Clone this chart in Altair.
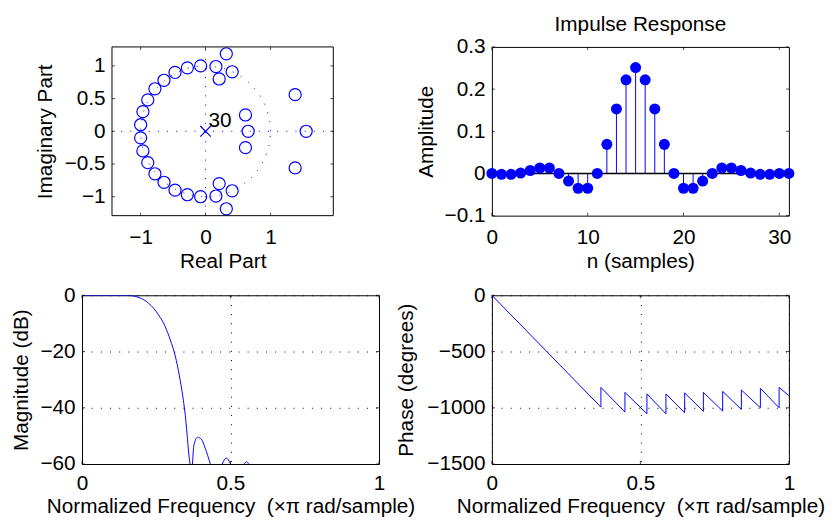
import altair as alt
import pandas as pd
import numpy as np

FONT = "Liberation Sans"
FS = 21
BLUE = "#0000ff"

# ---------------- pole-zero plot ----------------
zero_re = [-0.076, -0.28, -0.47, -0.64, -0.78, -0.89, -0.965, -1.0,
           -0.076, -0.28, -0.47, -0.64, -0.78, -0.89, -0.965, -1.0,
           0.16, 0.41, 0.21, 0.32, 0.16, 0.41, 0.21, 0.32,
           0.615, 0.615, 0.656, 1.38, 1.38, 1.55]
zero_im = [1.00, 0.97, 0.90, 0.78, 0.65, 0.48, 0.30, 0.10,
           -1.00, -0.97, -0.90, -0.78, -0.65, -0.48, -0.30, -0.10,
           0.99, 0.91, 0.80, 1.185, -0.99, -0.91, -0.80, -1.185,
           0.25, -0.25, 0.0, 0.56, -0.56, 0.0]
pole_re = [0.0]
pole_im = [0.0]
pole_mult = ["30"]
zp_xlim = [-1.441, 1.968]      # axes box limits
zp_ylim = [-1.29, 1.29]
zp_xdomain = [-1.903, 2.672]   # panel range (same width as other panels)
zp_xticks = [-1, 0, 1]
zp_yticks = [-1, -0.5, 0, 0.5, 1]

# ---------------- impulse response ----------------
ir_title = ["Impulse Response"]
ir_n = list(range(32))
ir_h = [0.0, -0.002, -0.002, 0.001, 0.007, 0.013, 0.013, 0.0, -0.018, -0.035,
        -0.035, 0.0, 0.069, 0.153, 0.222, 0.251, 0.222, 0.153, 0.069, 0.0,
        -0.035, -0.035, -0.018, 0.0, 0.013, 0.013, 0.007, 0.001, -0.002, -0.002,
        0.0, 0.0]
ir_xlim = [0, 31]
ir_ylim = [-0.1, 0.3]
ir_xticks = [0, 10, 20, 30]
ir_yticks = [-0.1, 0, 0.1, 0.2, 0.3]

# ---------------- magnitude response ----------------
mag_f = [0.0, 0.147, 0.192, 0.225, 0.258, 0.280, 0.297, 0.314, 0.328, 0.339, 0.349, 0.355, 0.361, 0.364,
         0.372, 0.377, 0.389, 0.402, 0.415, 0.432,
         0.472, 0.486, 0.500,
         0.546, 0.554, 0.561]
mag_db = [0.0, 0.0, -0.8, -2.9, -7.0, -11.1, -15.8, -21.6, -28.7, -35.7, -43.9, -50.9, -57.9, -60.0,
          -60.0, -53.2, -50.5, -51.2, -54.4, -60.0,
          -60.0, -57.9, -60.0,
          -60.0, -59.2, -60.0]
mag_seg = [0] * 14 + [1] * 6 + [2] * 3 + [3] * 3
mag_ylim = [-60, 0]
mag_yticks = [-60, -40, -20, 0]

# ---------------- phase response ----------------
ph_f = [0.0, 0.367, 0.367, 0.448, 0.448, 0.522, 0.522, 0.586, 0.586, 0.649, 0.649,
        0.712, 0.712, 0.777, 0.777, 0.840, 0.840, 0.904, 0.904, 0.967, 0.967, 1.0]
ph_deg = [0, -994, -819, -1038, -863, -1053, -877, -1053, -877, -1044, -868,
          -1032, -863, -1029, -854, -1015, -842, -1000, -827, -1000, -819, -892]
ph_ylim = [-1500, 0]
ph_yticks = [-1500, -1000, -500, 0]

f_xlim = [0, 1]
f_xticks = [0, 0.5, 1]
FREQ_TITLE = "Normalized Frequency\u00a0 (\u00d7\u03c0 rad/sample)"

W, H = 301, 171
DOT = [1, 8.3]
FMT = "~f"
TOP_X = dict(labelPadding=11, titlePadding=3.4)
BOT_X = dict(labelPadding=9, titlePadding=2)


def inner_ticks(xt, yt, xlim, ylim):
    L = 3
    dx = pd.DataFrame({"v": xt})
    dy = pd.DataFrame({"v": yt})
    base = dict(color="black", thickness=1, size=L)
    bot = alt.Chart(dx).mark_tick(orient="vertical", yOffset=-L / 2, **base).encode(
        x="v:Q", y=alt.datum(ylim[0]))
    top = alt.Chart(dx).mark_tick(orient="vertical", yOffset=L / 2, **base).encode(
        x="v:Q", y=alt.datum(ylim[1]))
    left = alt.Chart(dy).mark_tick(orient="horizontal", xOffset=L / 2, **base).encode(
        y="v:Q", x=alt.datum(xlim[0]))
    right = alt.Chart(dy).mark_tick(orient="horizontal", xOffset=-L / 2, **base).encode(
        y="v:Q", x=alt.datum(xlim[1]))
    return [bot, top, left, right]


def sc(domain):
    return alt.Scale(domain=domain, nice=False, zero=False)


# ===== Panel 1: zero-pole =====
zdf = pd.DataFrame({"re": zero_re, "im": zero_im})
pdf = pd.DataFrame({"re": pole_re, "im": pole_im, "m": pole_mult})
theta = np.linspace(0, 2 * np.pi, 361)
ucdf = pd.DataFrame({"re": np.cos(theta), "im": np.sin(theta), "k": np.arange(361)})

zx = alt.X("re:Q", scale=sc(zp_xdomain),
           axis=alt.Axis(values=zp_xticks, title="Real Part", titleX=142.7, format=FMT, **TOP_X))
zy = alt.Y("im:Q", scale=sc(zp_ylim),
           axis=alt.Axis(values=zp_yticks, title="Imaginary Part", offset=-30.4, format=FMT,
                         titlePadding=9))

zeros = alt.Chart(zdf).mark_point(shape="circle", filled=False, size=150, color=BLUE,
                                  strokeWidth=1.2, opacity=1).encode(x=zx, y=zy)
ucirc = alt.Chart(ucdf).mark_line(color=BLUE, strokeWidth=1, strokeDash=DOT).encode(
    x="re:Q", y="im:Q", order="k:Q")
hline = alt.Chart(pdf).mark_rule(color=BLUE, strokeWidth=1, strokeDash=DOT).encode(
    x=alt.datum(zp_xlim[0]), x2=alt.datum(zp_xlim[1]), y="im:Q")
vline = alt.Chart(pdf).mark_rule(color=BLUE, strokeWidth=1, strokeDash=DOT).encode(
    x="re:Q", y=alt.datum(zp_ylim[0]), y2=alt.datum(zp_ylim[1]))
poles = alt.Chart(pdf).mark_point(shape="M-1,-1L1,1M-1,1L1,-1", size=114, color=BLUE,
                                  strokeWidth=1.2, opacity=1).encode(x="re:Q", y="im:Q")
plabel = alt.Chart(pdf).mark_text(align="left", baseline="alphabetic", dx=3, dy=-4,
                                  font=FONT, fontSize=FS, color="black").encode(
    x="re:Q", y="im:Q", text="m:N")
zbox = alt.Chart(pdf).mark_rect(fillOpacity=0, stroke="black", strokeWidth=1).encode(
    x=alt.datum(zp_xlim[0]), x2=alt.datum(zp_xlim[1]),
    y=alt.datum(zp_ylim[0]), y2=alt.datum(zp_ylim[1]))

tl = alt.layer(zeros, ucirc, hline, vline, poles, plabel, zbox,
               *inner_ticks(zp_xticks, zp_yticks, zp_xlim, zp_ylim)).properties(
    width=W, height=H, view=alt.ViewBackground(stroke="transparent"))

# ===== Panel 2: impulse response =====
idf = pd.DataFrame({"n": ir_n, "h": ir_h, "base": [0.0] * len(ir_n)})
tdf = pd.DataFrame({"t": ir_title})
ix = alt.X("n:Q", scale=sc(ir_xlim),
           axis=alt.Axis(values=ir_xticks, title="n (samples)", format=FMT, **TOP_X))
iy = alt.Y("h:Q", scale=sc(ir_ylim),
           axis=alt.Axis(values=ir_yticks, title="Amplitude", format=FMT, titlePadding=8))
stems = alt.Chart(idf).mark_rule(color=BLUE, strokeWidth=1).encode(x=ix, y=iy, y2="base:Q")
baseline = alt.Chart(pdf).mark_rule(color="black", strokeWidth=1.5).encode(
    x=alt.datum(ir_xlim[0]), x2=alt.datum(ir_xlim[1]), y=alt.datum(0))
dots = alt.Chart(idf).mark_circle(size=125, color=BLUE, opacity=1).encode(x="n:Q", y="h:Q")
ttl = alt.Chart(tdf).mark_text(align="center", baseline="alphabetic", font=FONT, fontSize=FS,
                               color="black").encode(
    x=alt.value(W / 2), y=alt.value(-16.3), text="t:N")
tr = alt.layer(stems, baseline, dots, ttl,
               *inner_ticks(ir_xticks, ir_yticks, ir_xlim, ir_ylim)).properties(width=W, height=H)

# ===== Panel 3: magnitude =====
mdf = pd.DataFrame({"f": mag_f, "db": mag_db, "seg": mag_seg, "i": range(len(mag_f))})
grid_axis = dict(grid=True, gridColor="black", gridDash=DOT, gridOpacity=1, gridWidth=1, format=FMT)
mx = alt.X("f:Q", scale=sc(f_xlim),
           axis=alt.Axis(values=f_xticks, title=FREQ_TITLE, **grid_axis, **BOT_X))
my = alt.Y("db:Q", scale=sc(mag_ylim),
           axis=alt.Axis(values=mag_yticks, title="Magnitude (dB)", titlePadding=8.5, **grid_axis))
mline = alt.Chart(mdf).mark_line(color=BLUE, strokeWidth=1, clip=True, interpolate="monotone").encode(
    x=mx, y=my, detail="seg:N", order="i:Q")
bl = alt.layer(mline, *inner_ticks(f_xticks, mag_yticks, f_xlim, mag_ylim)).properties(width=W, height=H)

# ===== Panel 4: phase =====
phdf = pd.DataFrame({"f": ph_f, "deg": ph_deg, "i": range(len(ph_f))})
px = alt.X("f:Q", scale=sc(f_xlim),
           axis=alt.Axis(values=f_xticks, title=FREQ_TITLE, **grid_axis, **BOT_X))
py = alt.Y("deg:Q", scale=sc(ph_ylim),
           axis=alt.Axis(values=ph_yticks, title="Phase (degrees)", titlePadding=10, **grid_axis))
pline = alt.Chart(phdf).mark_line(color=BLUE, strokeWidth=1, clip=True).encode(x=px, y=py, order="i:Q")
br = alt.layer(pline, *inner_ticks(f_xticks, ph_yticks, f_xlim, ph_ylim)).properties(width=W, height=H)

chart = alt.concat(tl, tr, bl, br, columns=2,
                   spacing={"row": 80.7, "column": 114.4},
                   bounds="flush", align="all").properties(
    padding={"left": 2, "top": 2, "right": 0, "bottom": 0},
    background="white",
).configure_view(
    stroke="black", strokeWidth=1
).configure_axis(
    domain=False, ticks=False, grid=False, labelFont=FONT, titleFont=FONT, labelFontSize=FS,
    titleFontSize=FS, titleFontWeight="normal", labelColor="black", titleColor="black",
    labelFlush=False, labelOverlap=False
).configure_axisY(
    labelPadding=7
)

chart.save("out.html", embed_options={"renderer": "svg", "actions": False})
